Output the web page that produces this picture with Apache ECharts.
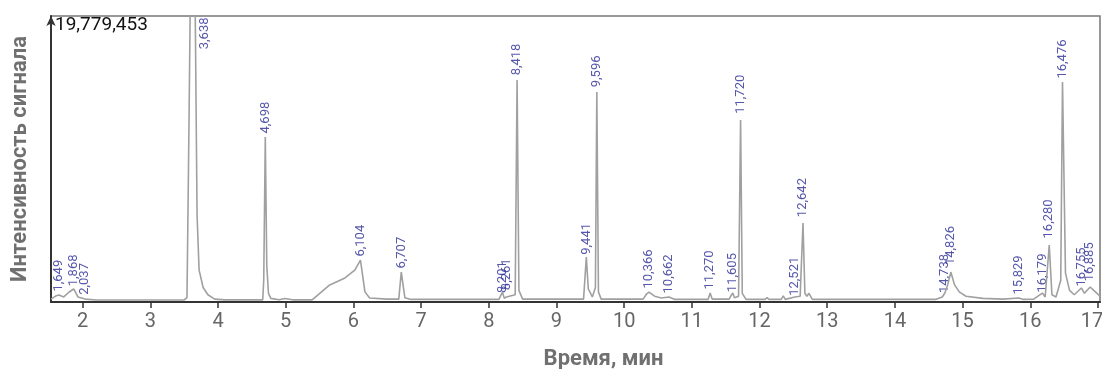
<!DOCTYPE html>
<html>
<head>
<meta charset="utf-8">
<script src="https://cdn.jsdelivr.net/npm/echarts@6/dist/echarts.min.js"></script>
<style>
    html, body { margin: 0; padding: 0; background: #fff; }
    #chart { width: 1102px; height: 369px; }
</style>
</head>
<body>
<div id="chart"></div>
<script>
// время удерживания, мин
const traceTimes = [
    1.532, 1.60, 1.649, 1.72, 1.80, 1.868, 1.93, 2.037, 2.2,
    3.50, 3.541, 3.57, 3.61, 3.638, 3.665, 3.69, 3.72, 3.78, 3.85, 3.95, 4.1,
    4.66, 4.675, 4.698, 4.72, 4.745, 4.78, 4.9, 4.99, 5.1,
    5.39, 5.65, 5.875, 6.02, 6.104, 6.17, 6.24, 6.5,
    6.67, 6.707, 6.76, 6.85,
    8.15, 8.201, 8.23, 8.261, 8.39, 8.418, 8.445, 8.5,
    9.40, 9.441, 9.47, 9.53, 9.575, 9.596, 9.62, 9.66,
    10.28, 10.33, 10.366, 10.45, 10.55, 10.662, 10.75,
    11.24, 11.270, 11.30, 11.55, 11.58, 11.605, 11.63, 11.69, 11.720, 11.745, 11.8,
    12.08, 12.11, 12.14, 12.32, 12.35, 12.38, 12.521, 12.60, 12.642, 12.67, 12.70, 12.73, 12.78,
    14.60, 14.70, 14.738, 14.78, 14.826, 14.88, 14.95, 15.05, 15.3, 15.6,
    15.829, 15.9, 16.05, 16.179, 16.22, 16.280, 16.32, 16.38, 16.45, 16.476, 16.52, 16.58,
    16.65, 16.755, 16.80, 16.885, 16.95, 17.03
];
// интенсивность сигнала, млн
const traceValues = [
    0.20, 0.41, 0.48, 0.35, 0.69, 0.90, 0.35, 0.20, 0.14,
    0.14, 0.30, 12.0, 30.0, 32.0, 19.0, 6.0, 2.2, 1.0, 0.5, 0.2, 0.15,
    0.15, 1.5, 11.41, 2.5, 0.6, 0.25, 0.16, 0.24, 0.15,
    0.15, 1.18, 1.66, 2.2, 2.90, 0.7, 0.28, 0.20,
    0.20, 2.07, 0.30, 0.18,
    0.18, 0.69, 0.25, 0.35, 0.5, 15.35, 0.8, 0.2,
    0.20, 3.11, 0.9, 0.35, 1.0, 14.52, 0.7, 0.2,
    0.20, 0.55, 0.69, 0.40, 0.28, 0.35, 0.18,
    0.18, 0.62, 0.20, 0.20, 0.45, 0.62, 0.30, 0.40, 12.59, 0.6, 0.18,
    0.18, 0.30, 0.18, 0.18, 0.42, 0.18, 0.35, 0.40, 5.46, 0.6, 0.40, 0.60, 0.18,
    0.18, 0.35, 0.62, 1.2, 2.07, 1.2, 0.7, 0.4, 0.25, 0.20,
    0.28, 0.18, 0.20, 0.62, 0.35, 3.94, 0.5, 0.35, 1.5, 15.21, 2.0, 0.8,
    0.50, 0.97, 0.60, 1.04, 0.75, 0.40
];
// подписанные пики
const peakTimes = [
    1.649, 1.868, 2.037, 3.638, 4.698, 6.104, 6.707, 8.201, 8.261, 8.418,
    9.441, 9.596, 10.366, 10.662, 11.270, 11.605, 11.720, 12.521, 12.642,
    14.738, 14.826, 15.829, 16.179, 16.280, 16.476, 16.755, 16.885
];
const peakValues = [
    0.48, 0.90, 0.20, 32.0, 11.41, 2.90, 2.07, 0.69, 0.35, 15.35,
    3.11, 14.52, 0.69, 0.35, 0.62, 0.62, 12.59, 0.35, 5.46,
    0.62, 2.07, 0.28, 0.62, 3.94, 15.21, 0.97, 1.04
];
const yMax = 19.779453;
const xMin = 1.532;
const xMax = 17.03;

(function () {
    let chart = echarts.init(document.querySelector("#chart"));

    let traceData = traceTimes.map((t, i) => [t, traceValues[i]]);
    let peakData = peakTimes.map((t, i) => {
        let v = peakValues[i];
        if (v > yMax) {
            // пик выходит за шкалу - подпись сверху, справа от пика
            return {
                value: [t, yMax],
                label: { position: [12, 2], align: 'right', verticalAlign: 'middle' }
            };
        }
        return { value: [t, v] };
    });

    // раздвигаем соседние подписи, если пики слишком близко
    const minGap = 13;
    function spreadLabel(params) {
        let i = params.dataIndex;
        let pxPerMin = params.rect ? chart.getWidth() : 0;
        pxPerMin = (chart.getWidth() - 51 - 2) / (xMax - xMin);
        let dx = 0;
        if (i + 1 < peakTimes.length) {
            let gap = (peakTimes[i + 1] - peakTimes[i]) * pxPerMin;
            if (gap < minGap) dx -= (minGap - gap) / 2;
        }
        if (i > 0) {
            let gap = (peakTimes[i] - peakTimes[i - 1]) * pxPerMin;
            if (gap < minGap) dx += (minGap - gap) / 2;
        }
        return { dx: dx };
    }

    let option = {
        animation: false,
        grid: {
            left: 51,
            right: 2,
            top: 16,
            bottom: 67,
            outerBoundsMode: 'none',
            containLabel: false,
            show: true,
            borderColor: '#777',
            borderWidth: 1.5
        },
        xAxis: {
            type: 'value',
            min: xMin,
            max: xMax,
            // шаг 1 мин, но без interval - иначе деления считаются от min
            minInterval: 1,
            maxInterval: 1,
            splitNumber: 16,
            name: 'Время, мин',
            nameLocation: 'middle',
            nameGap: 46,
            nameTextStyle: {
                fontFamily: 'Roboto',
                fontWeight: 'bold',
                fontSize: 22,
                color: '#707070',
                padding: [0, 0, 0, 56]
            },
            splitLine: { show: false },
            axisLine: { lineStyle: { color: '#333', width: 2 } },
            axisTick: { length: 6, lineStyle: { color: '#333', width: 1.5 } },
            axisLabel: {
                showMinLabel: false,
                showMaxLabel: false,
                margin: 10,
                fontFamily: 'Roboto',
                fontSize: 20,
                color: '#666',
                rich: {
                    // последняя подпись прижата к краю
                    last: { fontFamily: 'Roboto', fontSize: 20, color: '#666', padding: [0, 12, 0, 0] }
                },
                formatter: v => {
                    if (Math.abs(v - Math.round(v)) > 1e-6) return '';
                    let s = String(Math.round(v));
                    return Math.round(v) === 17 ? '{last|' + s + '}' : s;
                }
            }
        },
        yAxis: {
            type: 'value',
            min: 0,
            max: yMax,
            interval: yMax,
            name: 'Интенсивность сигнала',
            nameLocation: 'middle',
            nameGap: 20,
            nameTextStyle: {
                fontFamily: 'Roboto',
                fontWeight: 'bold',
                fontSize: 22,
                color: '#707070'
            },
            splitLine: { show: false },
            axisTick: { show: false },
            axisLine: {
                lineStyle: { color: '#333', width: 2 },
                symbol: ['none', 'arrow'],
                symbolSize: [7, 10]
            },
            axisLabel: {
                inside: true,
                showMinLabel: false,
                margin: 4,
                verticalAlign: 'top',
                fontFamily: 'Roboto',
                fontSize: 19,
                color: '#111',
                formatter: v => Math.round(v * 1e6).toLocaleString('en-US')
            }
        },
        series: [
            {
                name: 'хроматограмма',
                type: 'line',
                data: traceData,
                showSymbol: false,
                clip: true,
                lineStyle: { color: '#a0a0a0', width: 1.6 }
            },
            {
                name: 'пики',
                type: 'scatter',
                data: peakData,
                symbolSize: 1,
                clip: false,
                itemStyle: { color: 'rgba(0,0,0,0)' },
                labelLayout: spreadLabel,
                label: {
                    show: true,
                    position: 'top',
                    distance: 3,
                    rotate: 90,
                    align: 'left',
                    verticalAlign: 'middle',
                    fontFamily: 'Roboto',
                    fontSize: 13,
                    color: '#2c2c96',
                    formatter: p => peakTimes[p.dataIndex].toFixed(3).replace('.', ',')
                }
            }
        ]
    };

    chart.setOption(option);
})();
</script>
</body>
</html>
